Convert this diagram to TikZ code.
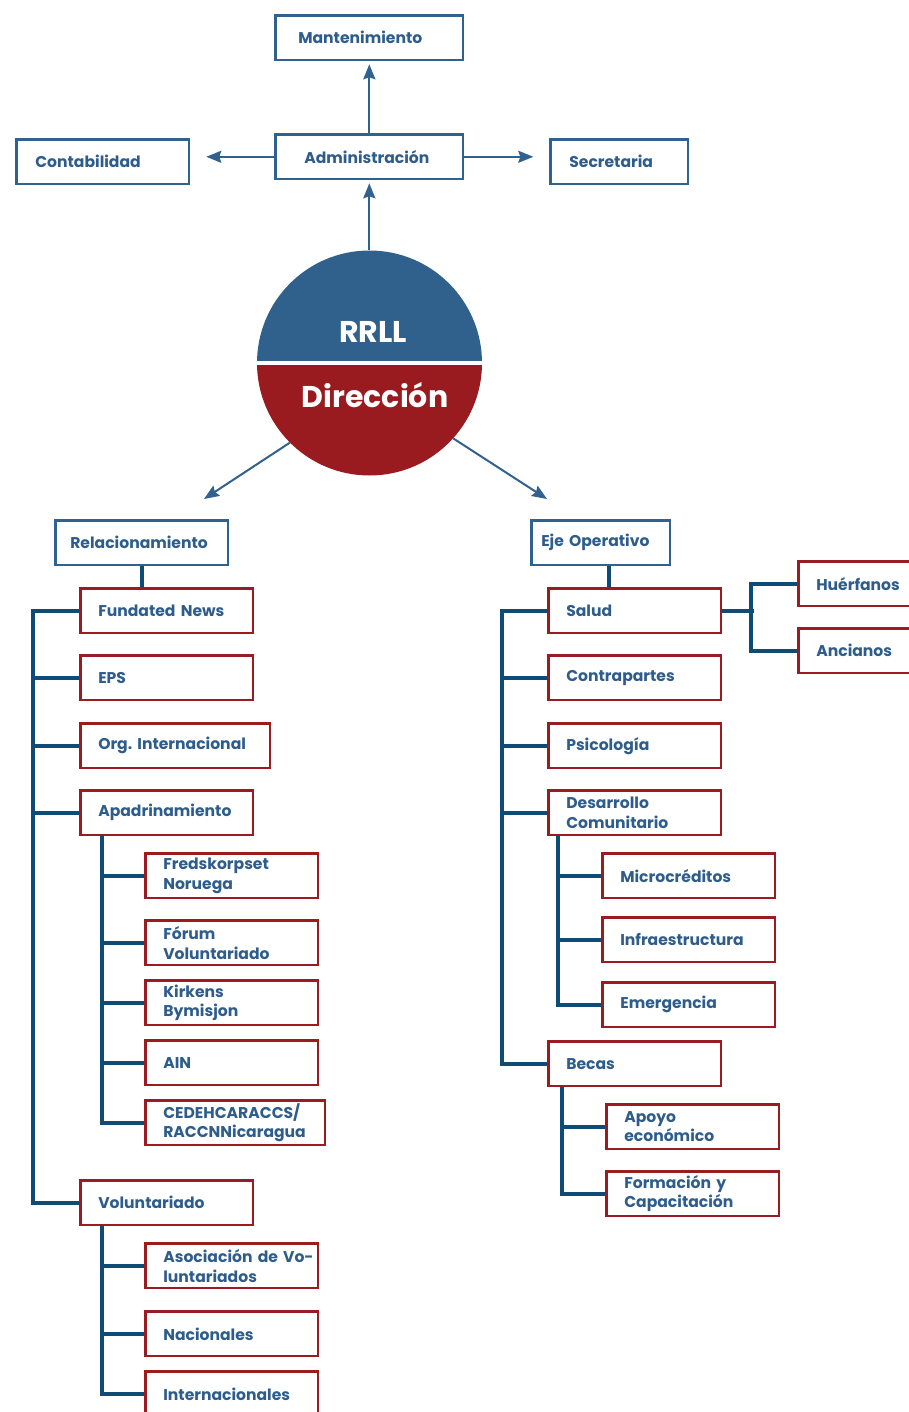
\documentclass[tikz,border=0pt]{standalone}
\usepackage{fontspec}
\setmainfont{Poppins}
\usepackage{xcolor}
\definecolor{boxblue}{RGB}{49,97,143}
\definecolor{boxred}{RGB}{155,28,32}
\definecolor{linkblue}{RGB}{14,75,119}
\definecolor{textblue}{RGB}{46,93,140}
\definecolor{circblue}{RGB}{48,97,140}
\definecolor{circred}{RGB}{153,27,32}
\usetikzlibrary{arrows.meta}
\tikzset{
    box/.style 2 args={draw, rectangle, anchor=north west, xshift=1.3pt, yshift=-1.3pt, line width=2.6pt,
        minimum height=44.4pt, inner ysep=0pt, inner xsep=#2, text width={#1-2.6pt-2*#2},
        align=left, text=textblue, font=\frenchspacing\bfseries\fontsize{15.6}{19.5}\selectfont},
    unit/.style={box={#1}{17.7pt}, draw=boxred},
    unit/.default=175pt,
    head/.style 2 args={box={#1}{#2}, draw=boxblue},
    link/.style={draw=linkblue, line width=4pt},
    arrow/.style={draw=boxblue, line width=2pt, -{Stealth[length=15pt, width=12pt, inset=2pt]}},
    big/.style={anchor=base, text=white, font=\bfseries\fontsize{30}{36}\selectfont},
    split/.style={circle, minimum size=225pt, inner sep=0pt,
        path picture={
            \fill[circblue] (path picture bounding box.north west) rectangle (path picture bounding box.east);
            \fill[circred] (path picture bounding box.west) rectangle (path picture bounding box.south east);
            \draw[white, line width=4pt] (path picture bounding box.west) -- (path picture bounding box.east);
        }
    }
}

\begin{document}
\begin{tikzpicture}[x=1pt, y=-1pt]
        \useasboundingbox (0,0) rectangle (908,1412);

        % Administracion
        \node[head={190pt}{22.7pt}] (mant) at (273,13) {Mantenimiento};
        \node[head={190pt}{28.7pt}] (adm) at (273,132) {Administración};
        \node[head={175pt}{18.7pt}] (conta) at (14,137) {Contabilidad};
        \node[head={140pt}{18.7pt}] (secr) at (548,137) {Secretaria};

        % Direccion
        \node[split] (dir) at (369.5,363) {};
        \node[big] (rrll) at (373,342) {RRLL};
        \node[big] (direc) at (375,407) {Dirección};

        \node[head={175pt}{14.7pt}] (rel) at (53,518) {Relacionamiento};
        \node[head={141pt}{9.7pt}] (eje) at (529,518) {Eje Operativo};
        \coordinate (reltip) at (204,499);
        \coordinate (ejetip) at (547,499);

        % Relacionamiento
        \node[unit] (fund) at (78,586) {Fundated News};
        \node[unit] (eps) at (78,653) {EPS};
        \node[unit=192pt] (org) at (78,721) {Org. Internacional};
        \node[unit] (apad) at (78,788) {Apadrinamiento};
        \node[unit] (fred) at (143,851) {Fredskorpset\\Noruega};
        \node[unit] (forum) at (143,918) {Fórum\\Voluntariado};
        \node[unit] (kirk) at (143,978) {Kirkens\\Bymisjon};
        \node[unit] (ain) at (143,1038) {AIN};
        \node[unit=182pt] (cedeh) at (143,1098) {CEDEHCARACCS/\\RACCNNicaragua};
        \node[unit] (vol) at (78,1178) {Voluntariado};
        \node[unit] (asoc) at (143,1241) {\mbox{Asociación de Vo-}\\luntariados};
        \node[unit] (nac) at (143,1309) {Nacionales};
        \node[unit] (inter) at (143,1369) {Internacionales};

        % Eje Operativo
        \node[unit] (salud) at (546,586) {Salud};
        \node[unit] (contra) at (546,653) {Contrapartes};
        \node[unit] (psico) at (546,721) {Psicología};
        \node[unit] (desa) at (546,788) {Desarrollo\\Comunitario};
        \node[unit] (micro) at (600,851) {Microcréditos};
        \node[unit] (infra) at (600,915) {Infraestructura};
        \node[unit] (emerg) at (600,980) {Emergencia};
        \node[unit] (becas) at (546,1039) {Becas};
        \node[unit] (apoyo) at (604,1102) {Apoyo\\económico};
        \node[unit] (formac) at (604,1169) {\mbox{Formación y}\\Capacitación};
        \node[unit] (huer) at (796,559) {Huérfanos};
        \node[unit] (anc) at (796,626) {Ancianos};

        \draw[arrow, shorten >=3pt] (adm.north) -- (mant.south);
        \draw[arrow, shorten >=3pt] (adm.south |- dir.north) -- (adm.south);
        \draw[arrow, shorten >=16pt] (adm.west) -- (adm.west -| conta.east);
        \draw[arrow, shorten >=16pt] (adm.east) -- (adm.east -| secr.west);
        \draw[arrow] (dir.-135) -- (reltip);
        \draw[arrow] (dir.-42) -- (ejetip);

        \draw[link] (rel.south) -- (rel.south |- fund.north);
        \draw[link] (fund.west) -- ++(-46,0) |- (vol.west);
        \foreach \n in {eps,org,apad}
            \draw[link] (\n.west) -- ++(-46,0);
        \draw[link] (apad.south west) ++(22.7,0) |- (cedeh.west);
        \foreach \n in {fred,forum,kirk,ain}
            \draw[link] (\n.west) -- ++(-42.3,0);
        \draw[link] (vol.south west) ++(22.7,0) |- (inter.west);
        \foreach \n in {asoc,nac}
            \draw[link] (\n.west) -- ++(-42.3,0);

        \draw[link] ([xshift=8pt]eje.south) -- ([xshift=8pt]eje.south |- salud.north);
        \draw[link] (salud.west) -- ++(-45.3,0) |- (becas.west);
        \foreach \n in {contra,psico,desa}
            \draw[link] (\n.west) -- ++(-45.3,0);
        \draw[link] (desa.south west) ++(10.7,0) |- (emerg.west);
        \foreach \n in {micro,infra}
            \draw[link] (\n.west) -- ++(-43.3,0);
        \draw[link] (becas.south west) ++(14.7,0) |- (formac.west);
        \draw[link] (apoyo.west) -- ++(-44.3,0);
        \draw[link] (salud.east) -- ++(31.3,0);
        \draw[link] (huer.west) -- ++(-46.3,0) |- (anc.west);

    \end{tikzpicture}
\end{document}
